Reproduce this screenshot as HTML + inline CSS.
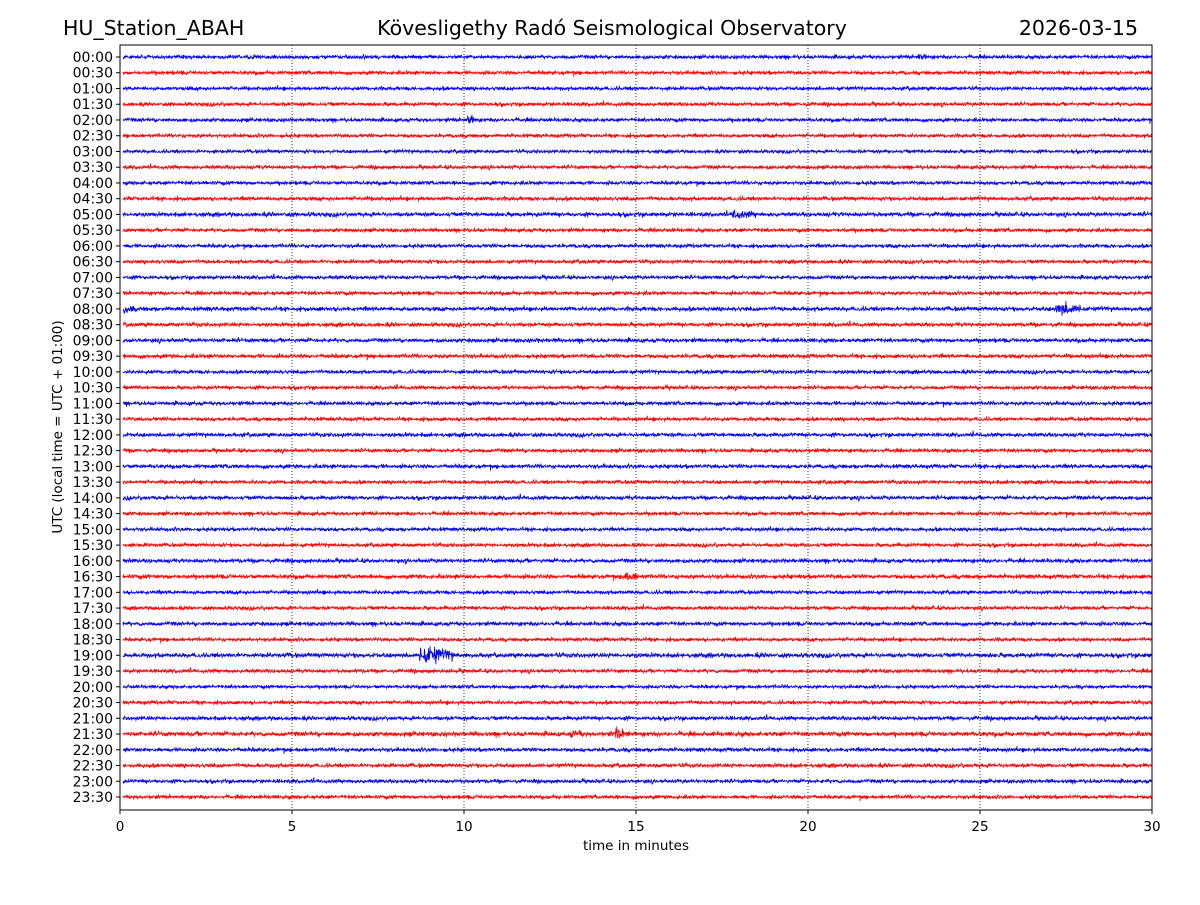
<!DOCTYPE html>
<html><head><meta charset="utf-8"><style>
body{margin:0;background:#fff;}
svg text{font-family:"DejaVu Sans","Liberation Sans",sans-serif;fill:#000;}
</style></head><body>
<svg id="chart" width="1200" height="900" viewBox="0 0 1200 900" xmlns="http://www.w3.org/2000/svg">
<rect width="1200" height="900" fill="#fff"/>
<text x="63" y="35" font-size="20.5">HU_Station_ABAH</text>
<text x="612" y="35" font-size="20.5" text-anchor="middle">Kövesligethy Radó Seismological Observatory</text>
<text x="1138" y="35" font-size="20.5" text-anchor="end">2026-03-15</text>
<g id="grid"></g>
<g id="traces"></g>
<rect x="120" y="45" width="1032" height="765" fill="none" stroke="#000" stroke-width="1"/>
<g id="yaxis"></g>
<g id="xaxis"></g>
<text x="636" y="850" font-size="13.5" text-anchor="middle">time in minutes</text>
<text x="0" y="0" font-size="13.5" text-anchor="middle" transform="translate(62,427) rotate(-90)">UTC (local time = UTC + 01:00)</text>
</svg>
<script>
const rowLabels = [];
for (let h = 0; h < 24; h++) { const hh = String(h).padStart(2,'0'); rowLabels.push(hh+':00', hh+':30'); }
const xTicks = [0,5,10,15,20,25,30];
const gridTicks = [5,10,15,20,25];
// per-row noise amplitude (px)
const rowNoise = [1.3,1.3,1.3,1.3,1.3,1.3,1.2,1.3,1.3,1.4,1.5,1.3,1.3,1.3,1.3,1.3,1.5,1.4,1.4,1.4,1.3,1.3,1.3,1.3,1.4,1.3,1.4,1.3,1.4,1.3,1.3,1.3,1.4,1.5,1.3,1.3,1.4,1.3,1.6,1.3,1.2,1.3,1.4,1.6,1.4,1.4,1.3,1.3];
// events: row index, start minute, duration minutes, amplitude px
const eventRows = [4, 10, 16, 16, 38, 33, 43, 43, 0];
const eventStart = [10.1, 17.8, 27.2, 0.1, 8.7, 14.6, 14.4, 13.1, 23.2];
const eventDur = [0.3, 0.7, 0.8, 0.3, 1.0, 0.5, 0.4, 0.4, 0.3];
const eventAmp = [3, 2, 4, 2, 5.5, 2.5, 3, 2, 1.5];

const NS='http://www.w3.org/2000/svg';
const x0=120, x1=1152, tMin=0, tMax=30;
const xs = t => x0 + (t-tMin)/(tMax-tMin)*(x1-x0);
const rowY = i => 57 + i*(797-57)/(rowLabels.length-1);

let seed = 12345;
function rnd(){ seed = (seed*1103515245 + 12345) % 2147483648; return seed/2147483648; }
function gauss(){ return (rnd()+rnd()+rnd()-1.5)*1.4; }

const grid=document.getElementById('grid');
gridTicks.forEach(t=>{
  const l=document.createElementNS(NS,'line');
  
  
  l.setAttribute('x1',xs(t));l.setAttribute('x2',xs(t));l.setAttribute('y1',45);l.setAttribute('y2',810);
  l.setAttribute('stroke','#000');l.setAttribute('stroke-width','0.8');l.setAttribute('stroke-dasharray','1,2');
  grid.appendChild(l);
});

const traces=document.getElementById('traces');
rowLabels.forEach((lab,i)=>{
  const y=rowY(i);
  const pts=[];
  for(let px=123; px<=1152; px+=0.35){
    const t=(px-x0)/(x1-x0)*(tMax-tMin)+tMin;
    let a=rowNoise[i]*(0.7+0.5*rnd());
    if(rnd()<0.01) a*=1.8;
    for(let e=0;e<eventRows.length;e++){
      if(eventRows[e]===i && t>=eventStart[e] && t<=eventStart[e]+eventDur[e]){
        const f=1-(t-eventStart[e])/eventDur[e];
        a+=eventAmp[e]*(0.3+0.7*f);
      }
    }
    pts.push(px.toFixed(2)+','+(y+gauss()*a).toFixed(1));
  }
  const p=document.createElementNS(NS,'polyline');
  
  
  p.setAttribute('points',pts.join(' '));
  p.setAttribute('fill','none');
  p.setAttribute('stroke', i%2===0 ? '#0000ff' : '#ff0000');
  p.setAttribute('stroke-width','0.8');
  traces.appendChild(p);
});

const ya=document.getElementById('yaxis');
rowLabels.forEach((lab,i)=>{
  const y=rowY(i);
  const tk=document.createElementNS(NS,'line');
  
  
  tk.setAttribute('x1',116);tk.setAttribute('x2',120);tk.setAttribute('y1',y);tk.setAttribute('y2',y);tk.setAttribute('stroke','#000');
  ya.appendChild(tk);
  const tx=document.createElementNS(NS,'text');
  
  
  tx.setAttribute('x',113);tx.setAttribute('y',y+5);tx.setAttribute('font-size','14');tx.setAttribute('text-anchor','end');
  tx.textContent=lab;
  ya.appendChild(tx);
});

const xa=document.getElementById('xaxis');
xTicks.forEach(t=>{
  const x=xs(t);
  const tk=document.createElementNS(NS,'line');
  
  
  tk.setAttribute('x1',x);tk.setAttribute('x2',x);tk.setAttribute('y1',810);tk.setAttribute('y2',814);tk.setAttribute('stroke','#000');
  xa.appendChild(tk);
  const tx=document.createElementNS(NS,'text');
  
  
  tx.setAttribute('x',x);tx.setAttribute('y',831);tx.setAttribute('font-size','13.5');tx.setAttribute('text-anchor','middle');
  tx.textContent=String(t);
  xa.appendChild(tx);
});
</script>
</body></html>
